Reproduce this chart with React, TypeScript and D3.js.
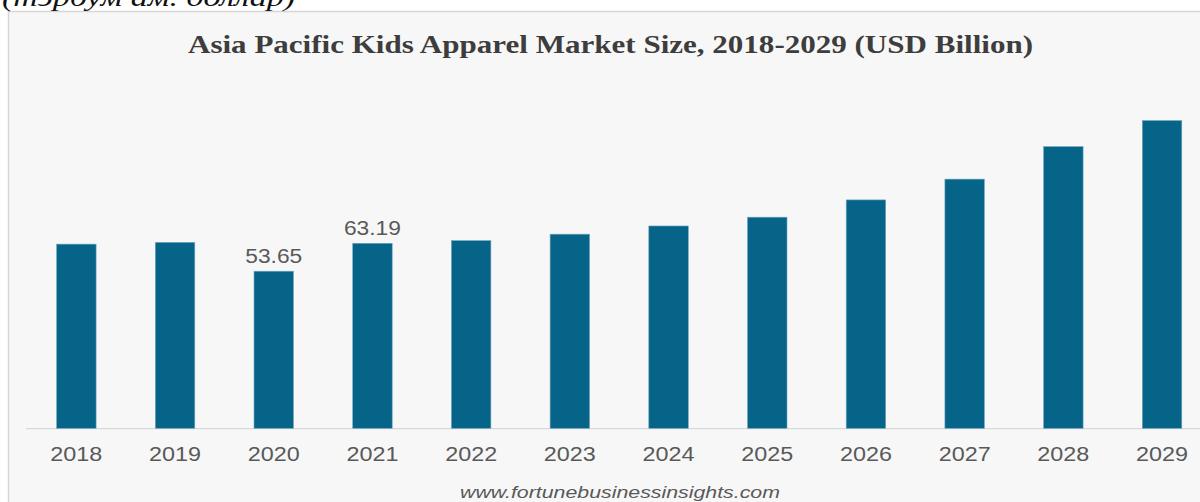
import React from "react";
import * as d3 from "d3";

const years = ["2018", "2019", "2020", "2021", "2022", "2023", "2024", "2025", "2026", "2027", "2028", "2029"];
const values = [62.9, 63.5, 53.65, 63.19, 64.1, 66.3, 69.1, 72.1, 78.0, 85.1, 96.2, 105.1];
const labelledYears = ["2020", "2021"];
const titleText = "Asia Pacific Kids Apparel Market Size, 2018-2029 (USD Billion)";
const topNote = "(тэрбум ам. доллар)";
const sourceText = "www.fortunebusinessinsights.com";

const W = 1200;
const H = 502;
const baseY = 428.3;

export default function App() {
  const x = d3
    .scaleBand<string>()
    .domain(years)
    .range([27, 27 + 12 * 98.7])
    .paddingInner(0.6)
    .paddingOuter(0.3);
  const y = d3.scaleLinear().domain([0, 100]).range([baseY, baseY - 292.8]);

  return (
    <svg
      width={W}
      height={H}
      style={{ position: "absolute", left: 0, top: 0, display: "block" }}
    >
      <rect x={0} y={0} width={W} height={H} fill="#ffffff" />
      <rect x={8.5} y={11.5} width={W + 20} height={H + 20} fill="#f7f7f7" stroke="#d6d6d6" strokeWidth={1.5} />
      <text
        x={2}
        y={6}
        fontFamily="'Liberation Serif', 'Times New Roman', serif"
        fontStyle="italic"
        fontSize={26}
        fill="#111"
        textLength={293}
        lengthAdjust="spacingAndGlyphs"
      >
        {topNote}
      </text>
      <text
        x={188}
        y={53}
        fontFamily="'Liberation Serif', 'Times New Roman', serif"
        fontWeight="bold"
        fontSize={25}
        fill="#3d3d3d"
        textLength={845}
        lengthAdjust="spacingAndGlyphs"
      >
        {titleText}
      </text>
      <line x1={26} x2={W} y1={baseY + 0.3} y2={baseY + 0.3} stroke="#d9d9d9" strokeWidth={1.2} />
      {years.map((yr, i) => {
        const v = values[i];
        const bx = x(yr)!;
        const bw = x.bandwidth();
        const top = y(v);
        const cx = bx + bw / 2;
        return (
          <g key={yr}>
            <rect
              x={bx}
              y={top}
              width={bw}
              height={baseY - top}
              fill="#066489"
              stroke="#6fa6c0"
              strokeWidth={0.6}
            />
            <text
              x={cx}
              y={461}
              textAnchor="middle"
              fontFamily="'Liberation Sans', Arial, sans-serif"
              fontSize={19.5}
              fill="#595959"
              textLength={52}
              lengthAdjust="spacingAndGlyphs"
            >
              {yr}
            </text>
            {labelledYears.includes(yr) && (
              <text
                x={cx}
                y={top - 8.5}
                textAnchor="middle"
                fontFamily="'Liberation Sans', Arial, sans-serif"
                fontSize={19.5}
                fill="#595959"
                textLength={57}
                lengthAdjust="spacingAndGlyphs"
              >
                {v.toFixed(2)}
              </text>
            )}
          </g>
        );
      })}
      <text
        x={460}
        y={498}
        fontFamily="'Liberation Sans', Arial, sans-serif"
        fontStyle="italic"
        fontSize={17}
        fill="#595959"
        textLength={320}
        lengthAdjust="spacingAndGlyphs"
      >
        {sourceText}
      </text>
    </svg>
  );
}
